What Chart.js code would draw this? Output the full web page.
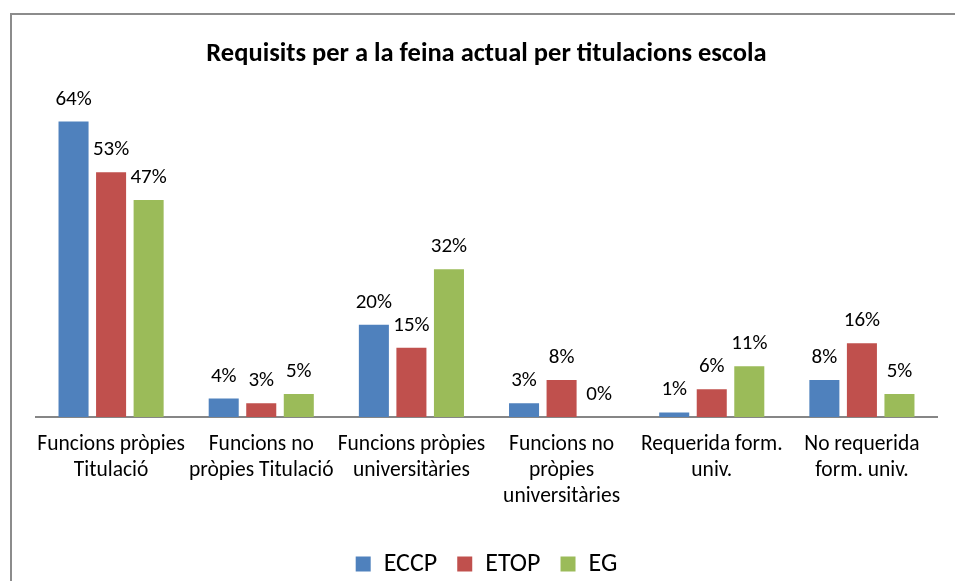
<!DOCTYPE html>
<html>
<head>
<meta charset="utf-8">
<script src="https://cdn.jsdelivr.net/npm/chart.js@4"></script>
<style>
html,body{margin:0;padding:0;background:#fff;overflow:hidden;width:955px;height:581px;}
#frame{position:absolute;left:10px;top:13px;width:990px;height:620px;border:2px solid #8c8c8c;box-sizing:border-box;}
#wrap{position:absolute;left:0;top:0;width:980px;height:581px;}
</style>
</head>
<body>
<div id="frame"></div>
<div id="wrap"><canvas id="c" width="980" height="581"></canvas></div>
<script>
const categories = [
  ['Funcions pròpies','Titulació'],
  ['Funcions no','pròpies Titulació'],
  ['Funcions pròpies','universitàries'],
  ['Funcions no','pròpies','universitàries'],
  ['Requerida form.','univ.'],
  ['No requerida','form. univ.']
];
const seriesNames = ['ECCP','ETOP','EG'];
const ECCP = [64, 4, 20, 3, 1, 8];
const ETOP = [53, 3, 15, 8, 6, 16];
const EG   = [47, 5, 32, 0, 11, 5];
const colors = ['#4F81BD','#C0504D','#9BBB59'];
const FONT = "Carlito, Lato, 'Liberation Sans', sans-serif";

const labelPlugin = {
  id:'barLabels',
  afterDatasetsDraw(chart){
    const ctx = chart.ctx;
    ctx.save();
    ctx.font = "21px " + FONT;
    ctx.fillStyle = '#000';
    ctx.textAlign = 'center';
    ctx.textBaseline = 'alphabetic';
    chart.data.datasets.forEach((ds,i)=>{
      const meta = chart.getDatasetMeta(i);
      meta.data.forEach((el,j)=>{
        ctx.fillText(Math.round(ds.data[j]) + '%', el.x, el.y - 17);
      });
    });
    ctx.restore();
  }
};

new Chart(document.getElementById('c'), {
  type:'bar',
  data:{
    labels: categories,
    datasets:[
      {label:seriesNames[0], data:ECCP, backgroundColor:colors[0]},
      {label:seriesNames[1], data:ETOP, backgroundColor:colors[1]},
      {label:seriesNames[2], data:EG, backgroundColor:colors[2]}
    ]
  },
  options:{
    responsive:false,
    animation:false,
    layout:{padding:{left:36,right:43,top:0,bottom:-6}},
    datasets:{bar:{categoryPercentage:0.75,barPercentage:0.8}},
    plugins:{
      title:{display:true,text:'Requisits per a la feina actual per titulacions escola',
        color:'#000',font:{family:FONT,size:26.5,weight:'bold'},padding:{top:38,bottom:24}},
      legend:{position:'bottom',
        labels:{color:'#000',font:{family:FONT,size:26},boxWidth:15,boxHeight:15,padding:20}},
      tooltip:{enabled:false}
    },
    scales:{
      x:{
        grid:{display:false,drawTicks:false},
        border:{display:true,color:'#868686',width:2},
        ticks:{color:'#000',font:{family:FONT,size:21.5},padding:15,maxRotation:0,autoSkip:false},
        afterFit(s){ s.height = 114; }
      },
      y:{display:false,min:0,max:70}
    }
  },
  plugins:[labelPlugin]
});
</script>
</body>
</html>
